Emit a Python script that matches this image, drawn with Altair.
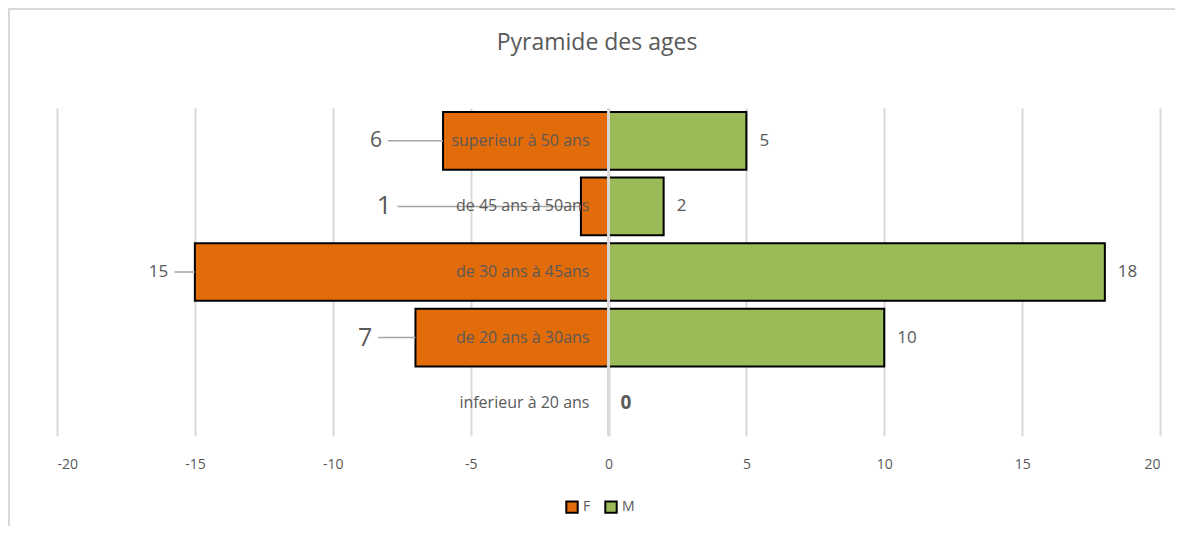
import altair as alt
import pandas as pd

# ---- data ----
categories = ["superieur à 50 ans", "de 45 ans à 50ans", "de 30 ans à 45ans",
              "de 20 ans à 30ans", "inferieur à 20 ans"]
femmes = [6, 1, 15, 7, 0]
hommes = [5, 2, 18, 10, 0]
x_ticks = [-20, -15, -10, -5, 0, 5, 10, 15, 20]
sexes = ["F", "M"]
title_text = ["Pyramide des ages"]

# ---- styling of the hand-placed F labels (leader start in axis units, font size) ----
f_leader_start = [-8.0, -7.65, -15.75, -8.35, 0]
f_label_size = [21, 26, 17, 25, 0]

FONT = "Open Sans"
GREY = "#595959"
ORANGE = "#e36c0a"
GREEN = "#9bbb59"

bars = pd.DataFrame(
    [{"category": c, "sex": "F", "value": -f} for c, f in zip(categories, femmes)]
    + [{"category": c, "sex": "M", "value": m} for c, m in zip(categories, hommes)]
)
bars = bars[bars["value"] != 0]

flab = pd.DataFrame({
    "category": categories,
    "f": femmes,
    "fend": [-f for f in femmes],
    "start": f_leader_start,
    "fs": f_label_size,
})
flab = flab[flab["f"] > 0]

mlab = pd.DataFrame({"category": categories, "m": hommes})
cats = pd.DataFrame({"category": categories})
one = pd.DataFrame({"title": title_text})

yenc = alt.Y("category:N", sort=categories, axis=None,
             scale=alt.Scale(paddingInner=0.12, paddingOuter=0.06))

xaxis = alt.Axis(values=x_ticks, grid=True, domain=False, ticks=False, title=None,
                 labelPadding=21, labelFontSize=14, labelColor=GREY, labelFont=FONT,
                 labelExpr="'' + datum.value",
                 gridColor="#d9d9d9", gridWidth=2)
xscale = alt.Scale(domain=[-20, 20], nice=False)


def X(field):
    return alt.X(field, scale=xscale, axis=xaxis)


# light frame around the chart (kept inside the drawing surface)
border_left = alt.Chart(one).mark_rect(color="#d9d9d9").encode(
    x=alt.value(-49), x2=alt.value(-47), y=alt.value(-100), y2=alt.value(430))
border_top = alt.Chart(one).mark_rect(color="#d9d9d9").encode(
    x=alt.value(-49), x2=alt.value(1118), y=alt.value(-100), y2=alt.value(-98))

title_mark = alt.Chart(one).mark_text(
    fontSize=23, font=FONT, color=GREY, align="center", baseline="alphabetic"
).encode(x=alt.value(540), y=alt.value(-58), text="title:N")

bar_layer = alt.Chart(bars).mark_bar(stroke="black", strokeWidth=2).encode(
    x=X("value:Q"),
    y=yenc,
    color=alt.Color("sex:N", scale=alt.Scale(domain=sexes, range=[ORANGE, GREEN]),
                    legend=alt.Legend(title=None, orient="none", direction="horizontal",
                                      legendX=508, legendY=392, symbolType="square",
                                      symbolSize=130, symbolStrokeColor="black",
                                      symbolStrokeWidth=2,
                                      labelFontSize=14, labelColor=GREY, labelFont=FONT,
                                      columnPadding=10, labelOffset=4)),
)

zero_rule = alt.Chart(cats).mark_rule(color="#d9d9d9", strokeWidth=2).encode(
    x=alt.datum(0, scale=xscale, axis=xaxis)
)

leaders = alt.Chart(flab).mark_rule(color="#a6a6a6", strokeWidth=1.5).encode(
    x=X("start:Q"), x2="fend:Q", y=yenc
)

cat_text = alt.Chart(cats).mark_text(
    align="right", dx=-19, fontSize=16, color=GREY, font=FONT
).encode(x=alt.datum(0, scale=xscale, axis=xaxis), y=yenc, text="category:N")

f_text = alt.Chart(flab).mark_text(align="right", dx=-6, color=GREY, font=FONT).encode(
    x=X("start:Q"), y=yenc, text="f:Q",
    size=alt.Size("fs:Q", scale=None, legend=None),
)

m_text = alt.Chart(mlab).transform_filter("datum.m > 0").mark_text(
    align="left", dx=13, fontSize=17, color=GREY, font=FONT
).encode(x=X("m:Q"), y=yenc, text="m:Q")

m_zero = alt.Chart(mlab).transform_filter("datum.m == 0").mark_text(
    align="left", dx=12, fontSize=19, fontWeight="bold", color=GREY, font=FONT
).encode(x=X("m:Q"), y=yenc, text="m:Q")

chart = alt.layer(
    bar_layer, zero_rule, leaders, cat_text, f_text, m_text, m_zero,
    border_left, border_top, title_mark
).properties(
    width=1103, height=328,
    autosize=alt.AutoSizeParams(type="none"),
    padding={"left": 49, "top": 100, "right": 16, "bottom": 90},
).configure_view(stroke=None)

chart.save("out.html", embed_options={"renderer": "svg", "actions": False})
